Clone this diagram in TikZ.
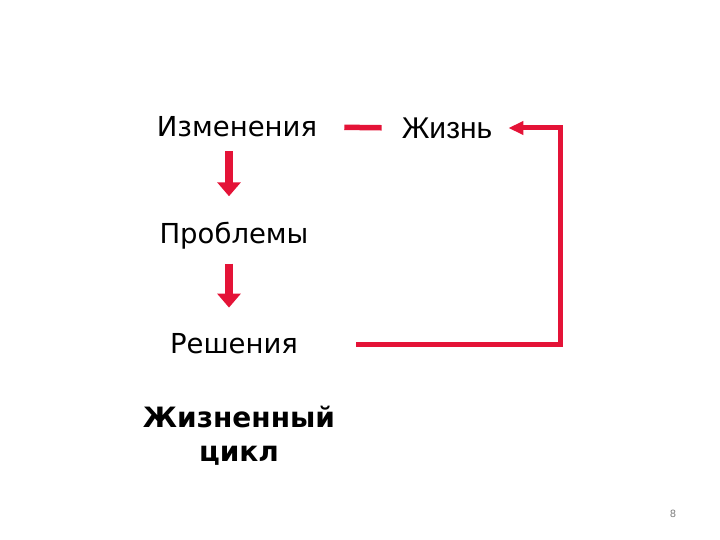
\documentclass[tikz,border=0pt]{standalone}
\usepackage{fontspec}
\setmainfont{DejaVu Sans}
\newfontfamily\lifefont{Liberation Sans}
\usetikzlibrary{arrows.meta}
\definecolor{cyclered}{RGB}{228,19,55}

\begin{document}
\begin{tikzpicture}[x=1pt,y=-1pt,
    stage/.style={font=\fontsize{27.5}{32}\selectfont},
    redline/.style={draw=cyclered, line width=5.5pt},
    downarrow/.style={draw=cyclered, line width=8pt, -{Triangle[width=23pt,length=14pt]}},
    backarrow/.style={draw=cyclered, line width=5pt, line join=miter, -{Triangle[width=13pt,length=15pt]}}]
    \tikzstyle{every node}+=[inner sep=0pt]
    \useasboundingbox (0,0) rectangle (720,540);
    \node [stage] (change) at (237,127) {Изменения};
    \node [font=\lifefont\fontsize{30}{34}\selectfont] (life) at (447,128) {Жизнь};
    \node [stage] (problems) at (234,236) {Проблемы};
    \node [stage] (solutions) at (234,344) {Решения};
    \node [font=\bfseries\fontsize{28}{34}\selectfont, align=center] (cycle) at (239,436) {Жизненный\\цикл};
    \node [font=\fontsize{10}{12}\selectfont, text=gray] (page) at (673,514) {8};
    \draw [redline, shorten <=27pt, shorten >=20pt] (change.east) -- (life.west);
    \draw [downarrow, shorten <=14pt, shorten >=26pt] (change.south -| 229,0) -- (problems.north -| 229,0);
    \draw [downarrow, shorten <=14pt, shorten >=26pt] (problems.south -| 229,0) -- (solutions.north -| 229,0);
    \draw [backarrow] ([xshift=58pt]solutions.east) -| ([xshift=68pt]life.east) -- ([xshift=16pt]life.east);
\end{tikzpicture}
\end{document}
